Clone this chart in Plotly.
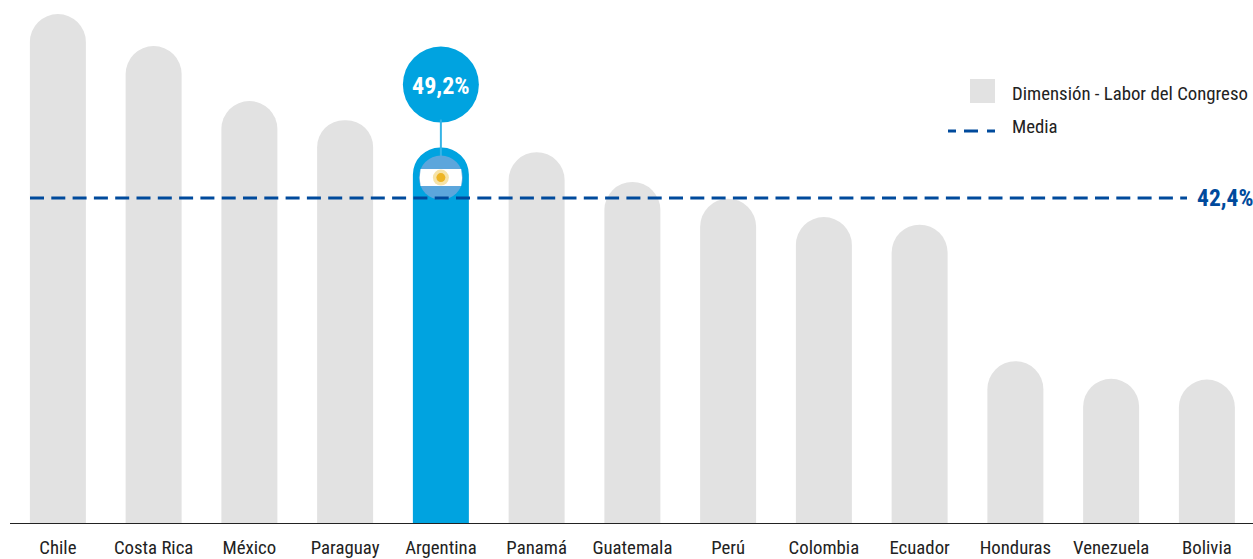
import plotly.graph_objects as go

categories = ["Chile", "Costa Rica", "México", "Paraguay", "Argentina", "Panamá", "Guatemala",
              "Perú", "Colombia", "Ecuador", "Honduras", "Venezuela", "Bolivia"]
values = [66.7, 62.5, 55.3, 52.8, 49.2, 48.6, 44.7, 42.5, 40.1, 39.1, 21.2, 18.9, 18.8]
highlight = "Argentina"
mean_value = 42.4
highlight_label = "49,2%"
mean_label = "42,4%"
series_name = "Dimensión - Labor del Congreso"
mean_name = "Media"

W, H = 1253, 559
ML, MB = 10, 36
PITCH = 95.75
FONT = "Roboto Condensed"
GREY, CYAN, NAVY, INK = "#E2E2E2", "#00A3E0", "#004A9C", "#222222"
hi = categories.index(highlight)
hv = values[hi]
px_per_unit = 7.63
y_top = (H - MB) / px_per_unit

def px(x):
    return (x - ML) / (W - ML)
def py(y):
    return 1 - y / (H - MB)

fig = go.Figure()
fig.add_bar(x=categories, y=values, name=series_name, width=56 / PITCH,
            marker=dict(color=[CYAN if c == highlight else GREY for c in categories],
                        line_width=0, cornerradius=28),
            showlegend=False, hoverinfo="x+y")
fig.add_scatter(x=[highlight], y=[hv + 63 / px_per_unit], mode="markers",
                marker=dict(size=76, color=CYAN, line_width=0),
                showlegend=False, hoverinfo="skip")

def anchored(**kw):
    return dict(xref="x", yref="y", xsizemode="pixel", ysizemode="pixel",
                xanchor=hi, yanchor=hv, **kw)

def band(cx, cy, r, half):
    dx = (r * r - half * half) ** 0.5
    return (f"M{cx-dx},{cy+half} L{cx+dx},{cy+half} Q{cx+r},{cy} {cx+dx},{cy-half} "
            f"L{cx-dx},{cy-half} Q{cx-r},{cy} {cx-dx},{cy+half} Z")

fcx, fcy = 0, -30
shapes = [
    anchored(type="line", x0=0, x1=0, y0=28, y1=-14, line=dict(color="#35B4E6", width=2)),
    anchored(type="circle", x0=fcx-22, x1=fcx+22, y0=fcy-22, y1=fcy+22,
             fillcolor="#5CA6DC", line_width=0),
    anchored(type="path", path=band(fcx, fcy, 22, 8.5), fillcolor="white", line_width=0),
    anchored(type="circle", x0=fcx-8, x1=fcx+8, y0=fcy-8, y1=fcy+8,
             fillcolor="#F6E3A8", line_width=0),
    anchored(type="circle", x0=fcx-4.5, x1=fcx+4.5, y0=fcy-4.5, y1=fcy+4.5,
             fillcolor="#EDB526", line_width=0),
    dict(type="line", xref="paper", yref="y", ysizemode="pixel", yanchor=mean_value,
         x0=px(30), x1=px(1187), y0=1.5, y1=1.5,
         line=dict(color=NAVY, width=3, dash="14px,7.3px")),
    dict(type="rect", xref="paper", yref="paper", x0=px(970), x1=px(995),
         y0=py(103), y1=py(79), fillcolor=GREY, line_width=0),
    dict(type="line", xref="paper", yref="paper", x0=px(948), x1=px(995),
         y0=py(131), y1=py(131),
         line=dict(color=NAVY, width=3, dash="8px,8px,14px,9px,8px,100px")),
]

annotations = [
    dict(text=highlight_label, x=highlight, y=hv + 63 / px_per_unit, xref="x", yref="y",
         showarrow=False, yshift=-1, font=dict(family=FONT, size=24, color="white", weight="bold")),
    dict(text=mean_label, xref="paper", yref="y", x=1, y=mean_value, xanchor="right",
         yanchor="middle", showarrow=False, yshift=1, borderpad=0, xshift=1,
         font=dict(family=FONT, size=23.5, color=NAVY, weight="bold")),
    dict(text=series_name, xref="paper", yref="paper", x=px(1012), y=py(94), xanchor="left",
         yanchor="middle", showarrow=False, borderpad=0, xshift=-1,
         font=dict(family=FONT, size=18.8, color=INK)),
    dict(text=mean_name, xref="paper", yref="paper", x=px(1012), y=py(127), xanchor="left",
         yanchor="middle", showarrow=False, borderpad=0, xshift=-1,
         font=dict(family=FONT, size=18.8, color=INK)),
]

fig.update_layout(
    width=W, height=H, autosize=False,
    margin=dict(l=ML, r=0, t=0, b=MB, pad=0),
    paper_bgcolor="white", plot_bgcolor="white",
    shapes=shapes, annotations=annotations, showlegend=False,
    xaxis=dict(type="category", categoryorder="array", categoryarray=categories,
               range=[-0.5, -0.5 + (W - ML) / PITCH], showgrid=False, zeroline=False,
               showline=True, linecolor=INK, linewidth=1, layer="below traces",
               ticks="", ticklabelstandoff=7,
               tickfont=dict(family=FONT, size=18.8, color=INK)),
    yaxis=dict(range=[0, y_top], visible=False, showgrid=False, zeroline=False),
)
fig.write_html("out.html", config={"displayModeBar": False},
               post_script="document.body.style.margin='0';document.documentElement.style.overflow='hidden';")
